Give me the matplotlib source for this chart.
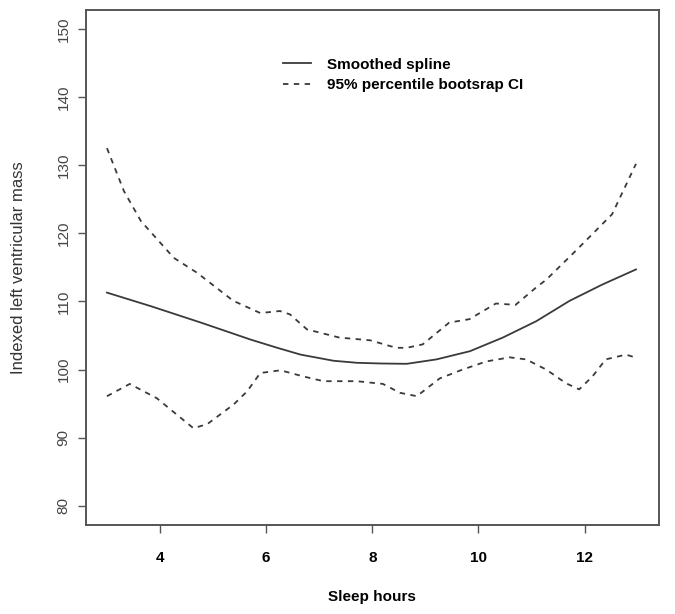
import numpy as np
import matplotlib
matplotlib.use("Agg")
import matplotlib.pyplot as plt

plt.rcParams['font.family'] = ['Liberation Sans', 'DejaVu Sans']

# smoothed spline
x_fit = [3.0, 3.83, 4.77, 5.71, 6.21, 6.65, 7.27, 7.71, 8.15, 8.65, 9.21, 9.84,
         10.46, 11.09, 11.72, 12.34, 12.97]
y_fit = [111.3, 109.3, 106.9, 104.4, 103.2, 102.2, 101.3, 101.0, 100.9, 100.85, 101.5, 102.7,
         104.7, 107.1, 110.1, 112.5, 114.7]

# upper 95% bootstrap limit
x_up = [3.0, 3.32, 3.64, 4.26, 4.7, 5.38, 5.89, 6.26, 6.45, 6.77, 7.38, 7.96,
        8.45, 8.65, 8.95, 9.45, 9.83, 10.33, 10.7, 11.08, 11.28, 11.83, 12.52, 12.97]
y_up = [132.5, 126.2, 121.8, 116.4, 114.2, 110.1, 108.3, 108.6, 108.1, 105.9, 104.7, 104.3,
        103.2, 103.2, 103.7, 106.9, 107.4, 109.7, 109.5, 112.0, 113.2, 117.4, 122.8, 130.2]

# lower 95% bootstrap limit
x_lo = [3.0, 3.43, 3.94, 4.19, 4.63, 4.89, 5.39, 5.64, 5.89, 6.27, 6.7, 7.08, 7.71,
        8.2, 8.52, 8.84, 9.27, 9.7, 10.15, 10.59, 10.9, 11.28, 11.65, 11.9, 12.15,
        12.4, 12.78, 12.95]
y_lo = [96.1, 97.9, 95.8, 94.2, 91.4, 92.0, 94.9, 96.8, 99.5, 99.9, 99.0, 98.3, 98.3,
        97.9, 96.6, 96.1, 98.7, 100.0, 101.2, 101.8, 101.5, 100.0, 98.0, 97.1, 99.0,
        101.5, 102.2, 101.8]

fig = plt.figure(figsize=(6.75, 6.14), dpi=100)
ax = fig.add_axes([0.127, 0.145, 0.849, 0.839])

lc = "#3a3a3a"
ax.plot(x_fit, y_fit, color=lc, lw=1.3, label="Smoothed spline")
ax.plot(x_up, y_up, color=lc, lw=1.3, dashes=(3, 3),
        label="95% percentile bootsrap CI")
ax.plot(x_lo, y_lo, color=lc, lw=1.3, dashes=(3, 3))

ax.set_xlim(2.6, 13.4)
ax.set_ylim(77.2, 152.8)
ax.set_xticks([4, 6, 8, 10, 12])
ax.set_yticks(np.arange(80, 151, 10))

for s in ax.spines.values():
    s.set_color("#555555")
    s.set_linewidth(1.4)
ax.tick_params(direction="out", length=6, width=1, color="#555555")
ax.tick_params(axis="x", labelsize=11, pad=13)
ax.tick_params(axis="y", labelsize=11, pad=5, labelcolor="#444444")
for t in ax.get_xticklabels():
    t.set_fontweight("bold")
for t in ax.get_yticklabels():
    t.set_rotation(90)
    t.set_va("center")

ax.set_xlabel("Sleep hours", fontsize=11, fontweight="bold", labelpad=18)
ax.set_ylabel("Indexed left ventricular mass", fontsize=12, color="#333333", labelpad=22)

leg = ax.legend(loc="upper left", bbox_to_anchor=(0.321, 0.934), frameon=False,
                fontsize=11, handlelength=1.8, handletextpad=1.05, labelspacing=0.42)
for t in leg.get_texts():
    t.set_fontweight("bold")

fig.savefig("out.png", dpi=100)
